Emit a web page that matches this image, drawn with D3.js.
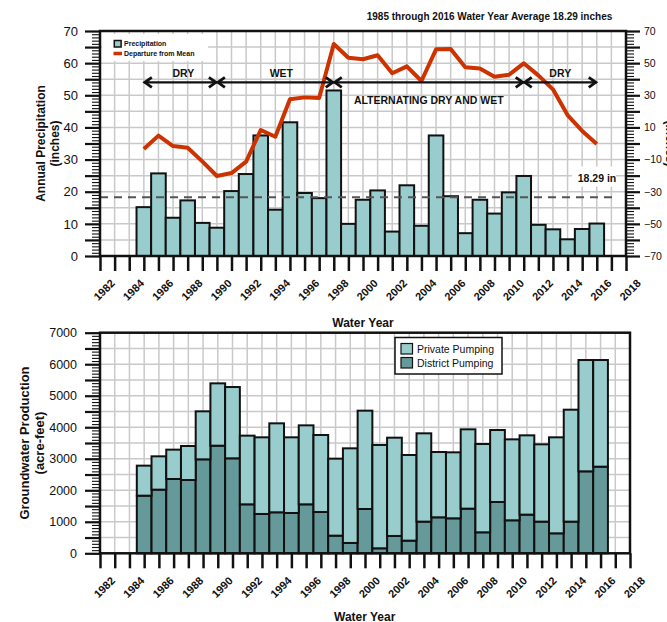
<!DOCTYPE html>
<html>
<head>
<meta charset="utf-8">
<script src="https://cdn.jsdelivr.net/npm/d3@7"></script>
<style>
  html, body { margin: 0; padding: 0; background: #fff; }
  svg { display: block; font-family: "Liberation Sans", Arial, Helvetica, sans-serif; }
</style>
</head>
<body>
<svg id="chart" width="667" height="622"></svg>
<script>
// Water years shown (Oct of previous year through Sep of the named year)
const waterYears = [1985, 1986, 1987, 1988, 1989, 1990, 1991, 1992, 1993, 1994, 1995,
  1996, 1997, 1998, 1999, 2000, 2001, 2002, 2003, 2004, 2005, 2006, 2007, 2008,
  2009, 2010, 2011, 2012, 2013, 2014, 2015, 2016];

// Annual precipitation (inches)
const precipitation = [15.2, 25.7, 11.9, 17.3, 10.3, 8.8, 20.2, 25.5, 37.5, 14.4, 41.6,
  19.6, 18.0, 51.5, 10.0, 17.5, 20.4, 7.6, 22.0, 9.4, 37.5, 18.6, 7.1, 17.5,
  13.2, 19.8, 24.9, 9.7, 8.3, 5.2, 8.4, 10.1];

// Cumulative departure from the mean (inches)
const departure = [-3.4, 4.9, -1.6, -2.6, -11.1, -20.2, -18.4, -11.3, 8.4, 4.2, 27.5,
  28.7, 28.3, 61.9, 53.4, 52.4, 54.9, 43.7, 48.0, 38.9, 58.6, 58.8, 47.4, 46.6,
  41.6, 42.8, 49.9, 42.4, 33.7, 17.7, 7.8, -0.3];

const meanPrecip = 18.29;

// Groundwater production (acre-feet)
const districtPumping = [1829, 2020, 2358, 2326, 2982, 3415, 3014, 1554, 1248, 1301, 1279,
  1554, 1311, 560, 328, 1406, 159, 550, 402, 1005, 1142, 1110, 1417, 666,
  1628, 1047, 1227, 1005, 634, 1005, 2601, 2749];
const privatePumping = [952, 1057, 931, 1079, 1523, 1978, 2262, 2179, 2432, 2823, 2401,
  2506, 2443, 2443, 3003, 3120, 3278, 3119, 2717, 2802, 2072, 2094, 2517, 2802,
  2284, 2569, 2516, 2453, 3046, 3552, 3532, 3384];

// Axis tick years and labelled years
const tickYears = [1981, 1982, 1983, 1984, 1985, 1986, 1987, 1988, 1989, 1990, 1991,
  1992, 1993, 1994, 1995, 1996, 1997, 1998, 1999, 2000, 2001, 2002, 2003, 2004,
  2005, 2006, 2007, 2008, 2009, 2010, 2011, 2012, 2013, 2014, 2015, 2016, 2017];
const yearLabels = [1982, 1984, 1986, 1988, 1990, 1992, 1994, 1996, 1998, 2000,
  2002, 2004, 2006, 2008, 2010, 2012, 2014, 2016, 2018];

// Climate periods (water years)
const periodLabels = ["DRY", "WET", "ALTERNATING DRY AND WET", "DRY"];
const periodStart = [1985, 1990, 1998, 2011];
const periodEnd = [1990, 1998, 2011, 2016];

const INK = "#111";
const GRID = "#c9c9c9";
const LIGHT = "#99cccc";
const DARK = "#669999";
const RED = "#cc3300";

const svg = d3.select("#chart");

// A water year starts in October of the previous calendar year,
// so each bar is centred on that calendar-year tick.
const wyPos = (x, wy) => x(wy - 1);

function panelFrame(g, x, y0, y1, hGridVals, yScale) {
  const [xl, xr] = x.range();
  // vertical grid
  g.append("g").selectAll("line").data(tickYears).join("line")
    .attr("x1", d => x(d)).attr("x2", d => x(d))
    .attr("y1", y1).attr("y2", y0)
    .attr("stroke", GRID).attr("stroke-width", 1.5);
  // horizontal grid
  g.append("g").selectAll("line").data(hGridVals).join("line")
    .attr("x1", xl).attr("x2", xr)
    .attr("y1", d => yScale(d)).attr("y2", d => yScale(d))
    .attr("stroke", GRID).attr("stroke-width", 1.5);
}

function xAxis(g, x, yBase) {
  const ax = g.append("g").attr("transform", `translate(0,${yBase})`)
    .call(d3.axisBottom(x).tickValues(tickYears).tickSize(15).tickSizeOuter(0).tickFormat(""));
  ax.select(".domain").remove();
  ax.selectAll(".tick line").attr("stroke", INK).attr("stroke-width", 2.5);
  g.append("g").selectAll("text").data(yearLabels).join("text")
    .attr("transform", d => `translate(${x(d) + 1},${yBase + 28}) rotate(-45)`)
    .attr("text-anchor", "end")
    .attr("font-size", 11).attr("font-weight", "bold").attr("fill", INK)
    .text(d => d);
}

function frame(g, x, yTop, yBottom) {
  const [xl, xr] = x.range();
  g.append("rect").attr("x", xl).attr("y", yTop)
    .attr("width", xr - xl).attr("height", yBottom - yTop)
    .attr("fill", "none").attr("stroke", INK).attr("stroke-width", 2.5);
}

/* ---------------- Precipitation panel ---------------- */
const pA = { left: 100, right: 626, top: 31, bottom: 256 };
const xA = d3.scaleLinear().domain([1981, 2017]).range([pA.left, pA.right]);
const yP = d3.scaleLinear().domain([0, 70]).range([pA.bottom, pA.top]);
const yD = d3.scaleLinear().domain([-70, 70]).range([pA.bottom, pA.top]);

const gA = svg.append("g");
panelFrame(gA, xA, pA.bottom, pA.top, d3.range(5, 70, 5), yP);

// legend backdrop (hides grid)
gA.append("rect").attr("x", 102).attr("y", 34).attr("width", 106).attr("height", 27).attr("fill", "#fff");

// bars
const barW = xA(1) - xA(0);
gA.append("g").selectAll("rect").data(waterYears).join("rect")
  .attr("x", (d) => wyPos(xA, d) - barW / 2)
  .attr("width", barW)
  .attr("y", (d, i) => yP(precipitation[i]))
  .attr("height", (d, i) => yP(0) - yP(precipitation[i]))
  .attr("fill", LIGHT).attr("stroke", INK).attr("stroke-width", 2);

// mean line
gA.append("line")
  .attr("x1", pA.left).attr("x2", 617)
  .attr("y1", yP(meanPrecip)).attr("y2", yP(meanPrecip))
  .attr("stroke", "#555").attr("stroke-width", 2).attr("stroke-dasharray", "8,6");

// mean label
gA.append("rect").attr("x", 572).attr("y", 166.5).attr("width", 44).attr("height", 20).attr("fill", "#fff");
gA.append("text").attr("x", 597).attr("y", 181.5).attr("text-anchor", "middle")
  .attr("font-size", 10.5).attr("font-weight", "bold").attr("fill", INK)
  .text(meanPrecip.toFixed(2) + " in");

// departure line
const line = d3.line().x((d, i) => wyPos(xA, waterYears[i])).y(d => yD(d));
gA.append("path").datum(departure).attr("d", line)
  .attr("fill", "none").attr("stroke", RED).attr("stroke-width", 4)
  .attr("stroke-linejoin", "round");

// period arrows
const arrowY = 82.3;
const labelNudge = [3, 6, 0, 0];
periodLabels.forEach((lab, i) => {
  const x1 = wyPos(xA, periodStart[i]);
  const x2 = wyPos(xA, periodEnd[i]);
  const g = gA.append("g").attr("stroke", INK).attr("fill", "none").attr("stroke-width", 2.2);
  g.append("line").attr("x1", x1).attr("x2", x2).attr("y1", arrowY).attr("y2", arrowY);
  g.append("path").attr("d", `M${x1 + 8},${arrowY - 5} L${x1 + 1},${arrowY} L${x1 + 8},${arrowY + 5}`)
    .attr("stroke-width", 2.8);
  g.append("path").attr("d", `M${x2 - 8},${arrowY - 5} L${x2 - 1},${arrowY} L${x2 - 8},${arrowY + 5}`)
    .attr("stroke-width", 2.8);
  const below = lab.length > 6;
  gA.append("text")
    .attr("x", (x1 + x2) / 2 + labelNudge[i])
    .attr("y", below ? 104 : 76.5)
    .attr("text-anchor", "middle")
    .attr("font-size", 10.5).attr("font-weight", "bold").attr("fill", INK)
    .text(lab);
});

// left axis ticks
const leftMinor = gA.append("g").attr("transform", `translate(${pA.left},0)`)
  .call(d3.axisLeft(yP).tickValues(d3.range(0, 71, 1)).tickSize(8).tickFormat(""));
leftMinor.select(".domain").remove();
leftMinor.selectAll(".tick line").attr("stroke", INK).attr("stroke-width", 1.1);
const leftMajor = gA.append("g").attr("transform", `translate(${pA.left},0)`)
  .call(d3.axisLeft(yP).tickValues(d3.range(0, 71, 5)).tickSize(15).tickFormat(""));
leftMajor.select(".domain").remove();
leftMajor.selectAll(".tick line").attr("stroke", INK).attr("stroke-width", 2.2);
const leftLab = gA.append("g").attr("transform", `translate(${pA.left},0)`)
  .call(d3.axisLeft(yP).tickValues(d3.range(0, 71, 10)).tickSize(0).tickPadding(22));
leftLab.select(".domain").remove();
leftLab.selectAll("text").attr("font-size", 13).attr("fill", INK).attr("font-family", null);

// right axis ticks
const rightMinor = gA.append("g").attr("transform", `translate(${pA.right},0)`)
  .call(d3.axisRight(yD).tickValues(d3.range(-70, 71, 2)).tickSize(8).tickFormat(""));
rightMinor.select(".domain").remove();
rightMinor.selectAll(".tick line").attr("stroke", INK).attr("stroke-width", 1.1);
const rightMajor = gA.append("g").attr("transform", `translate(${pA.right},0)`)
  .call(d3.axisRight(yD).tickValues(d3.range(-70, 71, 10)).tickSize(14).tickFormat(""));
rightMajor.select(".domain").remove();
rightMajor.selectAll(".tick line").attr("stroke", INK).attr("stroke-width", 2.2);
const rightLab = gA.append("g").attr("transform", `translate(${pA.right},0)`)
  .call(d3.axisRight(yD).tickValues(d3.range(-70, 71, 20)).tickSize(0).tickPadding(18));
rightLab.select(".domain").remove();
rightLab.selectAll("text").attr("font-size", 10.5).attr("fill", INK).attr("font-family", null);

xAxis(gA, xA, pA.bottom);
frame(gA, xA, pA.top, pA.bottom);

// legend
gA.append("rect").attr("x", 114.3).attr("y", 40.5).attr("width", 6.8).attr("height", 6.5)
  .attr("fill", LIGHT).attr("stroke", INK).attr("stroke-width", 1.5);
gA.append("text").attr("x", 124).attr("y", 46.3).attr("font-size", 7).attr("font-weight", "bold")
  .attr("fill", INK).text("Precipitation");
gA.append("line").attr("x1", 113.5).attr("x2", 122).attr("y1", 53.5).attr("y2", 53.5)
  .attr("stroke", RED).attr("stroke-width", 3.5);
gA.append("text").attr("x", 124).attr("y", 56).attr("font-size", 7).attr("font-weight", "bold")
  .attr("fill", INK).text("Departure from Mean");

// titles
svg.append("text").attr("x", 489.5).attr("y", 19.5).attr("text-anchor", "middle")
  .attr("font-size", 10).attr("font-weight", "bold").attr("fill", INK)
  .text("1985 through 2016 Water Year Average 18.29 inches");
const yTitleA = svg.append("text").attr("text-anchor", "middle")
  .attr("transform", `translate(45,${(pA.top + pA.bottom) / 2}) rotate(-90)`)
  .attr("font-size", 12).attr("font-weight", "bold").attr("fill", INK);
yTitleA.append("tspan").attr("x", 0).attr("dy", 0).text("Annual Precipitation");
yTitleA.append("tspan").attr("x", 0).attr("dy", 13.5).text("(inches)");
// secondary-axis title sits at the page's right edge
const yTitleR = svg.append("text").attr("text-anchor", "middle")
  .attr("transform", `translate(679,${(pA.top + pA.bottom) / 2}) rotate(90)`)
  .attr("font-size", 12).attr("font-weight", "bold").attr("fill", INK);
yTitleR.append("tspan").attr("x", 0).attr("dy", 0).text("Departure from Mean");
yTitleR.append("tspan").attr("x", 0).attr("dy", 13.5).text("(inches)");
svg.append("text").attr("x", 363).attr("y", 326.5).attr("text-anchor", "middle")
  .attr("font-size", 12).attr("font-weight", "bold").attr("fill", INK).text("Water Year");

/* ---------------- Groundwater panel ---------------- */
const pB = { left: 100, right: 630, top: 332.7, bottom: 553.3 };
const xB = d3.scaleLinear().domain([1981, 2017]).range([pB.left, pB.right]);
const yG = d3.scaleLinear().domain([0, 7000]).range([pB.bottom, pB.top]);

const gB = svg.append("g");
panelFrame(gB, xB, pB.bottom, pB.top, d3.range(500, 7000, 500), yG);

const pumpRows = waterYears.map((wy, i) => ({ wy, district: districtPumping[i], private: privatePumping[i] }));
const stacked = d3.stack().keys(["district", "private"])(pumpRows);
const barWB = xB(1) - xB(0);
gB.append("g").selectAll("g").data(stacked).join("g")
  .attr("fill", (d, i) => i === 0 ? DARK : LIGHT)
  .selectAll("rect").data(d => d).join("rect")
  .attr("x", d => wyPos(xB, d.data.wy) - barWB / 2)
  .attr("width", barWB)
  .attr("y", d => yG(d[1]))
  .attr("height", d => yG(d[0]) - yG(d[1]))
  .attr("stroke", INK).attr("stroke-width", 2);

const bMinor = gB.append("g").attr("transform", `translate(${pB.left},0)`)
  .call(d3.axisLeft(yG).tickValues(d3.range(0, 7001, 100)).tickSize(8).tickFormat(""));
bMinor.select(".domain").remove();
bMinor.selectAll(".tick line").attr("stroke", INK).attr("stroke-width", 1.1);
const bMajor = gB.append("g").attr("transform", `translate(${pB.left},0)`)
  .call(d3.axisLeft(yG).tickValues(d3.range(0, 7001, 500)).tickSize(15).tickFormat(""));
bMajor.select(".domain").remove();
bMajor.selectAll(".tick line").attr("stroke", INK).attr("stroke-width", 2.2);
const bLab = gB.append("g").attr("transform", `translate(${pB.left},0)`)
  .call(d3.axisLeft(yG).tickValues(d3.range(0, 7001, 1000)).tickSize(0).tickPadding(23).tickFormat(d3.format("d")));
bLab.select(".domain").remove();
bLab.selectAll("text").attr("font-size", 12.5).attr("fill", INK).attr("font-family", null);

xAxis(gB, xB, pB.bottom);
frame(gB, xB, pB.top, pB.bottom);

// legend
const lg = gB.append("g");
lg.append("rect").attr("x", 395).attr("y", 337.5).attr("width", 107).attr("height", 36.5)
  .attr("fill", "#fff").attr("stroke", INK).attr("stroke-width", 1.5);
[["Private Pumping", LIGHT], ["District Pumping", DARK]].forEach(([name, col], i) => {
  lg.append("rect").attr("x", 401).attr("y", 343.5 + i * 14).attr("width", 11.5).attr("height", 10.5)
    .attr("fill", col).attr("stroke", INK).attr("stroke-width", 1.2);
  lg.append("text").attr("x", 417).attr("y", 352.5 + i * 14)
    .attr("font-size", 10.5).attr("fill", INK).text(name);
});

const yTitleB = svg.append("text").attr("text-anchor", "middle")
  .attr("transform", `translate(28.5,${(pB.top + pB.bottom) / 2}) rotate(-90)`)
  .attr("font-size", 13).attr("font-weight", "bold").attr("fill", INK);
yTitleB.append("tspan").attr("x", 0).attr("dy", 0).text("Groundwater Production");
yTitleB.append("tspan").attr("x", 0).attr("dy", 15).text("(acre-feet)");
svg.append("text").attr("x", 364.7).attr("y", 620.5).attr("text-anchor", "middle")
  .attr("font-size", 12).attr("font-weight", "bold").attr("fill", INK).text("Water Year");
</script>
</body>
</html>
